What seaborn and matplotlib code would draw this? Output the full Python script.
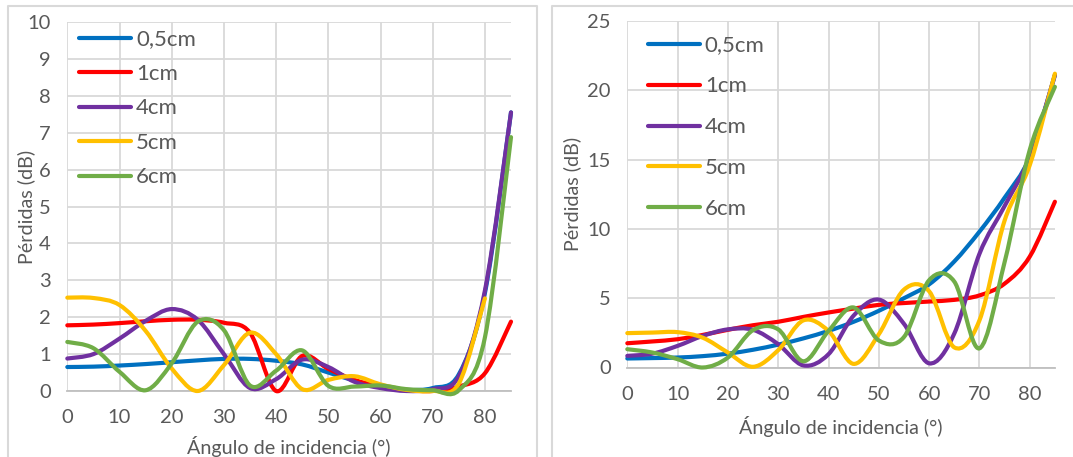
import numpy as np
import pandas as pd
import matplotlib
matplotlib.use("Agg")
import matplotlib.pyplot as plt
from matplotlib.path import Path
from matplotlib.patches import PathPatch
from matplotlib.lines import Line2D
import seaborn as sns

# ---------------- data (5 degree steps) ----------------
angles = [0, 5, 10, 15, 20, 25, 30, 35, 40, 45, 50, 55, 60, 65, 70, 75, 80, 85]
labels = ["0,5cm", "1cm", "4cm", "5cm", "6cm"]
colors = ["#0070C0", "#FF0000", "#7030A0", "#FFC000", "#70AD47"]

# left chart
left_05 = [0.65, 0.66, 0.69, 0.73, 0.78, 0.83, 0.87, 0.87, 0.82, 0.72, 0.50, 0.28, 0.10, 0.03, 0.08, 0.45, 2.65, 7.55]
left_1 = [1.78, 1.80, 1.84, 1.89, 1.93, 1.93, 1.85, 1.58, 0.00, 0.95, 0.60, 0.30, 0.13, 0.03, 0.00, 0.12, 0.48, 1.88]
left_4 = [0.88, 1.00, 1.42, 1.90, 2.22, 1.93, 1.00, 0.08, 0.32, 0.85, 0.65, 0.25, 0.08, 0.00, 0.05, 0.40, 2.72, 7.55]
left_5 = [2.53, 2.52, 2.33, 1.63, 0.61, 0.00, 0.70, 1.58, 1.00, 0.05, 0.30, 0.40, 0.18, 0.03, 0.00, 0.20, 2.51]
left_6 = [1.33, 1.16, 0.52, 0.02, 0.75, 1.88, 1.65, 0.15, 0.55, 1.10, 0.14, 0.12, 0.15, 0.05, 0.02, 0.02, 1.45, 6.88]

# right chart
right_05 = [0.65, 0.68, 0.72, 0.82, 1.00, 1.28, 1.65, 2.10, 2.64, 3.30, 4.09, 5.00, 6.00, 7.65, 9.80, 12.25, 15.20, 21.10]
right_1 = [1.75, 1.88, 2.04, 2.35, 2.72, 3.05, 3.30, 3.65, 3.97, 4.25, 4.52, 4.65, 4.76, 4.88, 5.20, 6.05, 8.00, 11.96]
right_4 = [0.84, 1.00, 1.56, 2.28, 2.75, 2.72, 1.68, 0.15, 0.96, 3.75, 4.90, 3.15, 0.30, 2.45, 8.20, 11.65, 15.20, 21.10]
right_5 = [2.48, 2.52, 2.55, 2.15, 1.08, 0.05, 1.25, 3.40, 2.64, 0.26, 2.40, 5.62, 5.50, 1.45, 3.40, 10.60, 14.60, 21.20]
right_6 = [1.32, 1.08, 0.60, 0.00, 0.72, 2.70, 2.75, 0.45, 2.64, 4.33, 1.95, 2.20, 6.30, 6.20, 1.38, 7.60, 15.70, 20.25]

left_series = [left_05, left_1, left_4, left_5, left_6]
right_series = [right_05, right_1, right_4, right_5, right_6]

# ---------------- style ----------------
sns.set_theme(style="white")
plt.rcParams["font.family"] = ["Lato", "DejaVu Sans"]
TXT = "#595959"
GRID = "#D9D9D9"

W, H = 1073, 457
fig = plt.figure(figsize=(W / 100, H / 100), dpi=100)
fig.patch.set_facecolor("white")


def frac(x0, y0, x1, y1):
    return [x0 / W, 1 - y1 / H, (x1 - x0) / W, (y1 - y0) / H]


def smooth_path(xy):
    """Excel-like smoothed line: cubic Bezier through the data points."""
    pts = np.asarray(xy, dtype=float)
    n = len(pts)
    verts = [pts[0]]
    codes = [Path.MOVETO]
    for i in range(n - 1):
        p0 = pts[i - 1] if i > 0 else pts[i]
        p1 = pts[i]
        p2 = pts[i + 1]
        p3 = pts[i + 2] if i + 2 < n else pts[i + 1]
        c1 = p1 + (p2 - p0) / 6.0
        c2 = p2 - (p3 - p1) / 6.0
        verts += [c1, c2, p2]
        codes += [Path.CURVE4] * 3
    return Path(verts, codes)


def draw_panel(ax, series, ymax, ystep, legend_anchor, labelspacing, xlabelpad, ylabel_x):
    for lab, col, vals in zip(labels, colors, series):
        df = pd.DataFrame({"angle": angles[:len(vals)], "loss": vals})
        sns.lineplot(data=df, x="angle", y="loss", color=col, linewidth=3.0,
                     ax=ax, legend=False, estimator=None, sort=False)
        line = ax.lines[-1]
        patch = PathPatch(smooth_path(line.get_xydata()), facecolor="none",
                          edgecolor=col, linewidth=3.0, capstyle="round",
                          joinstyle="round", zorder=3, clip_on=False)
        ax.add_patch(patch)
        line.set_visible(False)

    ax.set_xlim(0, 85)
    ax.set_ylim(0, ymax)
    ax.set_xticks(np.arange(0, 81, 10))
    ax.set_yticks(np.arange(0, ymax + 0.1, ystep))
    ax.grid(True, color=GRID, linewidth=1.3)
    ax.set_axisbelow(True)
    for s in ["top", "right", "left"]:
        ax.spines[s].set_visible(False)
    ax.spines["bottom"].set_color("#BFBFBF")
    ax.spines["bottom"].set_linewidth(1.3)
    ax.tick_params(axis="both", length=0, labelsize=14.5, labelcolor=TXT)
    ax.tick_params(axis="x", pad=13)
    ax.tick_params(axis="y", pad=12)
    ax.set_xlabel("Ángulo de incidencia (°)", fontsize=14.2, color=TXT, labelpad=xlabelpad)
    ax.set_ylabel("Pérdidas (dB)", fontsize=14.2, color=TXT)
    ax.yaxis.set_label_coords(ylabel_x, 0.5)

    handles = [Line2D([0], [0], color=c, lw=3.0, solid_capstyle="round") for c in colors]
    leg = fig.legend(handles, labels, loc="upper left", bbox_to_anchor=legend_anchor,
                     bbox_transform=fig.transFigure, frameon=False, fontsize=16,
                     handlelength=2.35, handletextpad=0.22, labelspacing=labelspacing,
                     borderpad=0, borderaxespad=0)
    for t in leg.get_texts():
        t.set_color(TXT)


ax1 = fig.add_axes(frac(67.3, 22, 511, 391))
ax2 = fig.add_axes(frac(627.3, 21, 1054.9, 367.5))

draw_panel(ax1, left_series, 10, 1, (79 / W, 1 - 29.5 / H), 0.65, 7, -0.072)
draw_panel(ax2, right_series, 25, 5, (647.6 / W, 1 - 35.5 / H), 0.94, 10, -0.108)

# chart-area borders (Excel chart frames)
bc = "#D9D9D9"
def fline(xs, ys):
    fig.add_artist(Line2D([x / W for x in xs], [1 - y / H for y in ys],
                          color=bc, linewidth=1.5, transform=fig.transFigure))

fline([7.5, 7.5, 536.7, 536.7], [457, 6, 6, 457])
fline([551.7, 551.7, 1073], [457, 6, 6])

fig.savefig("out.png", dpi=100, facecolor="white")
